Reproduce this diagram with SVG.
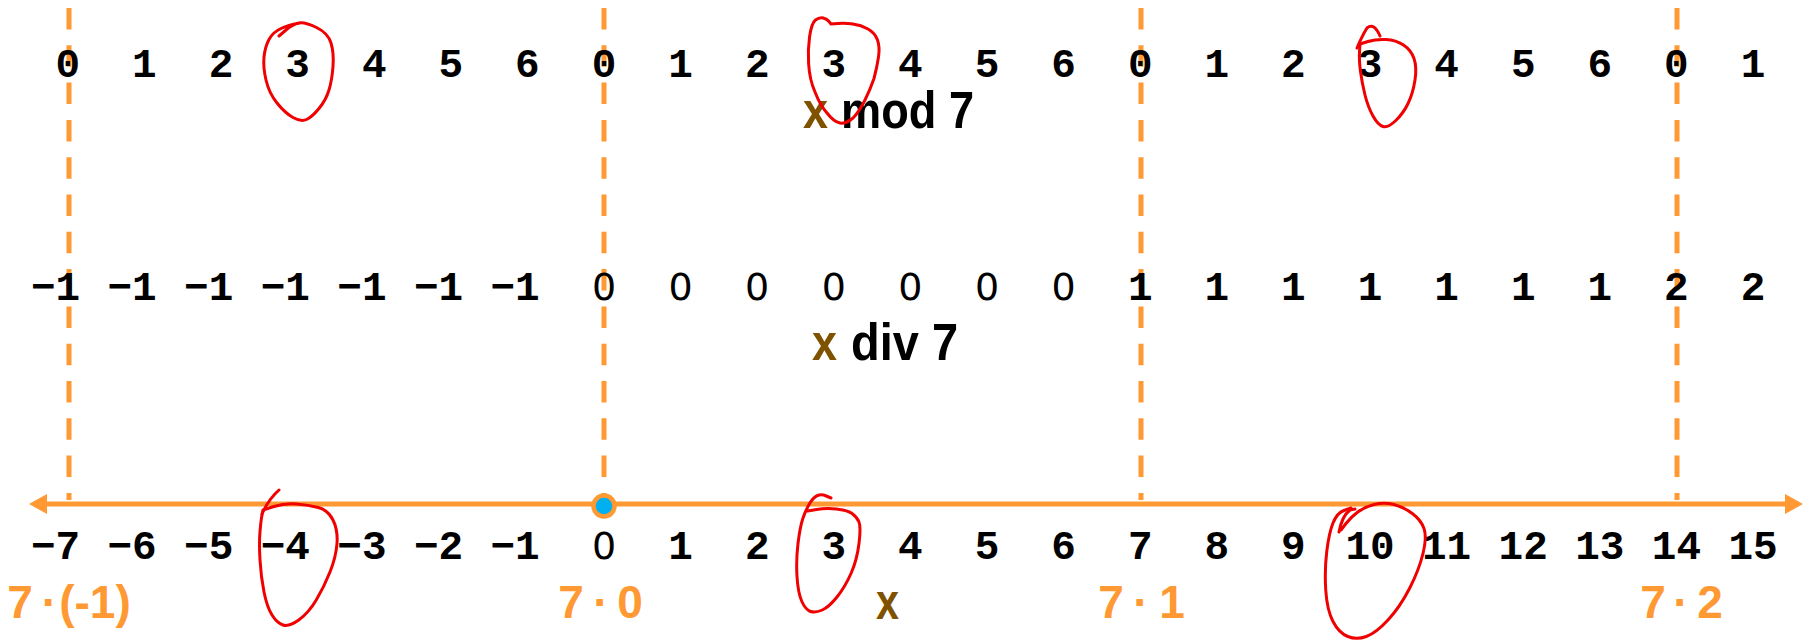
<svg xmlns="http://www.w3.org/2000/svg" width="1814" height="644" viewBox="0 0 1814 644">
<style>
.num{font-family:"Liberation Mono","DejaVu Sans Mono",monospace;font-weight:bold;font-size:41px;fill:#000;text-anchor:middle}
.neg{text-anchor:end}
.z{font-family:"DejaVu Sans","Liberation Sans",sans-serif;font-weight:normal;font-size:38px}
.lbl{font-family:"Liberation Sans",Arial,sans-serif;font-weight:bold;font-size:52px;fill:#000}
.bx{fill:#7f5200}
.mul{font-family:"Liberation Sans",Arial,sans-serif;font-weight:bold;font-size:46px;fill:#ff9933;text-anchor:middle}
.dash{stroke:#ff9933;stroke-width:5;stroke-dasharray:21.5 15.8;fill:none}
.ink{stroke:#f00000;stroke-width:3;fill:none;stroke-linecap:round;stroke-linejoin:round}
</style>
<defs>
<marker id="ah" markerUnits="userSpaceOnUse" markerWidth="18" markerHeight="20" refX="0" refY="10" orient="auto-start-reverse">
<path d="M0,0 L18,10 L0,20 z" fill="#ff9933"/>
</marker>
</defs>
<rect width="1814" height="644" fill="#fff"/>

<g id="period-lines">
<line class="dash" x1="69" y1="8" x2="69" y2="500"/>
<line class="dash" x1="604" y1="8" x2="604" y2="500"/>
<line class="dash" x1="1141" y1="8" x2="1141" y2="500"/>
<line class="dash" x1="1677" y1="8" x2="1677" y2="500"/>
</g>

<g id="axis">
<line x1="47" y1="504" x2="1785" y2="504" stroke="#ff9933" stroke-width="5" marker-start="url(#ah)" marker-end="url(#ah)"/>
<circle cx="604" cy="506" r="10.5" fill="#00b0f0" stroke="#ff9933" stroke-width="4.5"/>
</g>

<g id="row-mod" class="num">
<text x="67.8" y="77">0</text><text x="144.4" y="77">1</text><text x="221" y="77">2</text><text x="297.6" y="77">3</text><text x="374.2" y="77">4</text><text x="450.8" y="77">5</text><text x="527.4" y="77">6</text>
<text x="604" y="77">0</text><text x="680.6" y="77">1</text><text x="757.2" y="77">2</text><text x="833.8" y="77">3</text><text x="910.4" y="77">4</text><text x="987" y="77">5</text><text x="1063.6" y="77">6</text>
<text x="1140.2" y="77">0</text><text x="1216.8" y="77">1</text><text x="1293.4" y="77">2</text><text x="1370" y="77">3</text><text x="1446.6" y="77">4</text><text x="1523.2" y="77">5</text><text x="1599.8" y="77">6</text>
<text x="1676.4" y="77">0</text><text x="1753" y="77">1</text>
</g>

<g id="row-div" class="num">
<text class="neg" x="80.1" y="300">−1</text><text class="neg" x="156.7" y="300">−1</text><text class="neg" x="233.3" y="300">−1</text><text class="neg" x="309.9" y="300">−1</text><text class="neg" x="386.5" y="300">−1</text><text class="neg" x="463.1" y="300">−1</text><text class="neg" x="539.7" y="300">−1</text>
<text class="z" x="604" y="300">0</text><text class="z" x="680.6" y="300">0</text><text class="z" x="757.2" y="300">0</text><text class="z" x="833.8" y="300">0</text><text class="z" x="910.4" y="300">0</text><text class="z" x="987" y="300">0</text><text class="z" x="1063.6" y="300">0</text>
<text x="1140.2" y="300">1</text><text x="1216.8" y="300">1</text><text x="1293.4" y="300">1</text><text x="1370" y="300">1</text><text x="1446.6" y="300">1</text><text x="1523.2" y="300">1</text><text x="1599.8" y="300">1</text>
<text x="1676.4" y="300">2</text><text x="1753" y="300">2</text>
</g>

<g id="row-x" class="num">
<text class="neg" x="80.1" y="559">−7</text><text class="neg" x="156.7" y="559">−6</text><text class="neg" x="233.3" y="559">−5</text><text class="neg" x="309.9" y="559">−4</text><text class="neg" x="386.5" y="559">−3</text><text class="neg" x="463.1" y="559">−2</text><text class="neg" x="539.7" y="559">−1</text>
<text class="z" x="604" y="559">0</text><text x="680.6" y="559">1</text><text x="757.2" y="559">2</text><text x="833.8" y="559">3</text><text x="910.4" y="559">4</text><text x="987" y="559">5</text><text x="1063.6" y="559">6</text>
<text x="1140.2" y="559">7</text><text x="1216.8" y="559">8</text><text x="1293.4" y="559">9</text><text x="1370" y="559">10</text><text x="1446.6" y="559">11</text><text x="1523.2" y="559">12</text><text x="1599.8" y="559">13</text>
<text x="1676.4" y="559">14</text><text x="1753" y="559">15</text>
</g>

<g id="label-mod">
<text class="lbl bx" x="803" y="128" textLength="25" lengthAdjust="spacingAndGlyphs">x</text>
<text class="lbl" x="841" y="128" textLength="133" lengthAdjust="spacingAndGlyphs">mod 7</text>
</g>
<g id="label-div">
<text class="lbl bx" x="812" y="360" textLength="25" lengthAdjust="spacingAndGlyphs">x</text>
<text class="lbl" x="851" y="360" textLength="107" lengthAdjust="spacingAndGlyphs">div 7</text>
</g>
<g id="label-x">
<text class="lbl bx" x="876" y="619" font-size="48" textLength="23" lengthAdjust="spacingAndGlyphs">x</text>
</g>

<g id="multiples" class="mul">
<text y="618"><tspan x="20">7</tspan><tspan x="49.5">·</tspan><tspan x="95">(-1)</tspan></text>
<text y="618"><tspan x="571">7</tspan><tspan x="601">·</tspan><tspan x="630">0</tspan></text>
<text y="618"><tspan x="1111">7</tspan><tspan x="1141">·</tspan><tspan x="1172">1</tspan></text>
<text y="618"><tspan x="1653">7</tspan><tspan x="1681">·</tspan><tspan x="1710">2</tspan></text>
</g>

<g id="annotations" class="ink">
<path d="M279,36 L286,30 Q293,24 299,23 Q305,22 316.5,27.5 Q328,33 331,43 Q334,53 333,66.5 Q332,80 329,90 Q326,100 319,108.5 Q312,117 306.5,119.5 Q301,122 293,117.5 Q285,113 277,103 Q269,93 266,80 Q263,67 264,57 Q265,47 269,39.5 Q273,32 281,28.5 Q289,25 294.5,24 L300,23"/>
<path d="M831,24 L829,21.5 Q827,19 823.25,18 Q819.5,17 815.5,20 Q811.6,23 809.6,36.5 Q807.7,50 808.6,63.5 Q809.6,80 815,92 Q820,105 827,113 Q834,122 840,123 Q846,124 853,118 Q859,112 865,100 Q870,90 874,78.5 Q877,67 878.5,57 Q880,47 877.5,40 Q875,33 868,29 Q861,25 853,24 Q845,23 838,23.5 L831,24"/>
<path d="M1380,36 Q1374,22 1367,28 Q1362,36 1357,48"/>
<path d="M1360,44 L1368,41.5 Q1376,39 1386,39.5 Q1396,40 1403.5,45 Q1411,50 1414,58.5 Q1417,67 1415,80 Q1413,93 1408.3,103 Q1403.6,113 1395.8,120.5 Q1388,128 1383,126.5 Q1378,125 1373,116 Q1368,107 1365,95 Q1362,83 1360.5,71.5 Q1359,60 1359.5,52 L1360,44"/>
<path d="M279,490 Q268,500 262,514"/>
<path d="M263,510 L274,506.5 Q285,503 296.75,504 Q308.5,505 318.25,507.5 Q328,510 333,520 Q338,530 337,543.5 Q336,557 330,572 Q324,587 316.25,600 Q308.5,613 298.75,620 Q289,627 283,625 Q277,623 272,615 Q267,607 264,592 Q261,577 260,560 Q259,543 260,531.5 Q261,520 262,515 L263,510"/>
<path d="M831,498 L826.25,496 Q821.5,494 817.55,495.5 Q813.6,497 809.65,503.5 Q805.7,510 802.85,518.5 Q800,527 798,543.5 Q796,560 797,576.5 Q798,593 801.85,601.5 Q805.7,610 810.65,611.5 Q815.6,613 822.3,610 Q829,607 837,597 Q845,587 851,573.5 Q857,560 859,543.5 Q861,527 859,522 Q857,517 852,513.5 Q847,510 836.25,509 Q825.5,508 816.6,509.5 L807.7,511"/>
<path d="M1339,532 Q1342,516 1350,510 L1355,509"/>
<path d="M1351,508 L1344,510.5 Q1337,513 1333,523 Q1329,533 1326.75,551.5 Q1324.5,570 1325.75,590 Q1327,610 1333,621.5 Q1339,633 1347.8,636.5 Q1356.6,640 1366.3,636.5 Q1376,633 1388,620 Q1400,607 1409.5,588.5 Q1419,570 1423,553.5 Q1427,537 1424,528.5 Q1421,520 1412.3,513.5 Q1403.6,507 1393.8,504.5 Q1384,502 1374.25,504.5 Q1364.5,507 1357.75,512 Q1351,517 1346,523.5 L1341,530"/>
</g>
</svg>
